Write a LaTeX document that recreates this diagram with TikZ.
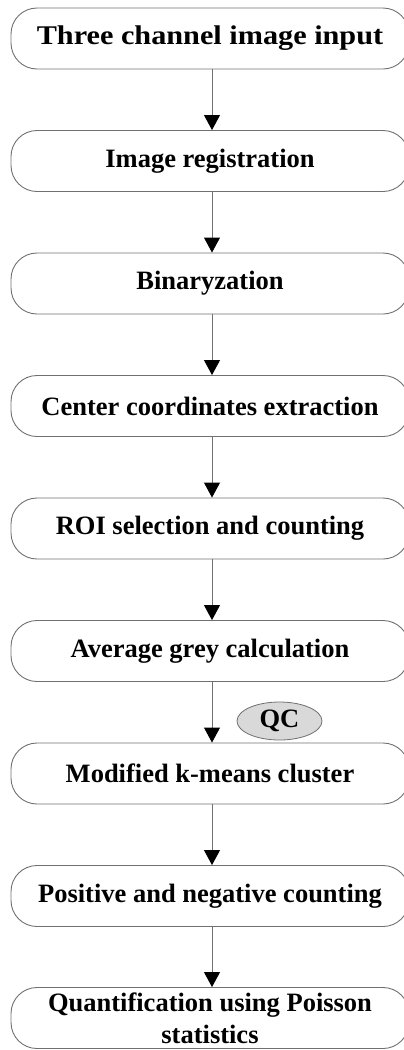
\documentclass[tikz,border=0pt]{standalone}
\usepackage{fontspec}
\setmainfont{Liberation Serif}
\newfontfamily\wfont{Liberation Serif}[FakeStretch=1.12]
\usetikzlibrary{arrows.meta,shapes.geometric}
\definecolor{boxgray}{HTML}{707070}
\definecolor{qcfill}{HTML}{D9D9D9}
\begin{document}
\begin{tikzpicture}[x=1pt,y=-1pt,
  stepbox/.style={draw=boxgray, line width=0.9pt, rounded corners=26pt,
    minimum width=398pt, minimum height=61pt, inner sep=0pt,
    font=\fontsize{26.5}{32}\selectfont\bfseries, align=center},
  widebox/.style={stepbox, font=\wfont\fontsize{27}{32}\selectfont\bfseries},
  qcnode/.style={ellipse, draw=boxgray, line width=0.8pt, fill=qcfill,
    minimum width=85pt, minimum height=38pt, inner sep=0pt,
    font=\fontsize{26.5}{30}\selectfont\bfseries},
  flow/.style={draw=boxgray, line width=0.9pt,
    -{Triangle[length=15pt,width=16pt,color=black]}}]
\useasboundingbox (0,0) rectangle (404,1050);
\node[widebox] (s1) at (210,38.5) {Three channel image input};
\node[stepbox] (s2) at (210,161) {Image registration};
\node[stepbox] (s3) at (210,283.5) {Binaryzation};
\node[stepbox] (s4) at (210,406) {Center coordinates extraction};
\node[stepbox] (s5) at (210,528.5) {ROI selection and counting};
\node[stepbox] (s6) at (210,651) {Average grey calculation};
\node[stepbox] (s7) at (210,773.5) {Modified k-means cluster};
\node[stepbox] (s8) at (210,896) {Positive and negative counting};
\node[stepbox] (s9) at (210,1018) {Quantification using Poisson\\statistics};
\node[qcnode] (qc) at (279.5,721) {QC};
\coordinate (ax) at (212,0);
\foreach \a/\b in {s1/s2,s2/s3,s3/s4,s4/s5,s5/s6,s6/s7,s7/s8,s8/s9}{
  \draw[flow] (\a.south -| ax) -- (\b.north -| ax);
}
\end{tikzpicture}
\end{document}
